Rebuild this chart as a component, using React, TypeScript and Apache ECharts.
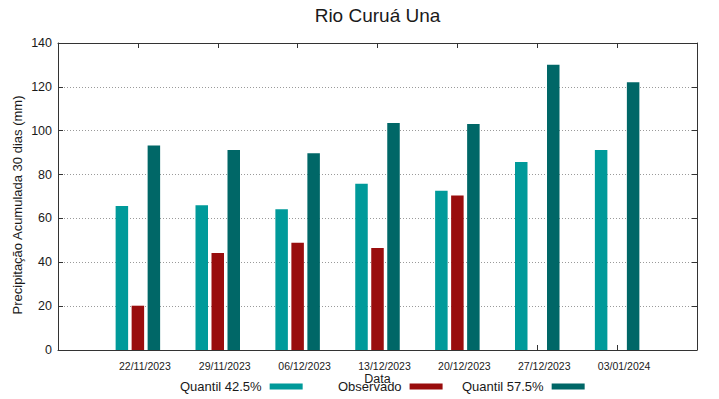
import React, { useEffect, useRef } from "react";
import * as echarts from "echarts";

const categories = ["", "22/11/2023", "29/11/2023", "06/12/2023", "13/12/2023", "20/12/2023", "27/12/2023", "03/01/2024", ""];
const quantil425 = [null, 65.7, 66.0, 64.2, 75.8, 72.6, 85.7, 91.2, null];
const observado = [null, 20.2, 44.2, 48.9, 46.5, 70.5, null, null, null];
const quantil575 = [null, 93.3, 91.2, 89.7, 103.5, 103.1, 130.1, 122.1, null];
const yTicks = [0, 20, 40, 60, 80, 100, 120, 140];

const FONT = "'Liberation Sans', Arial, sans-serif";
const TXT = "#1a1a1a";
const AX = "#333333";

export default function App() {
  const ref = useRef<HTMLDivElement>(null);
  useEffect(() => {
    if (!ref.current) return;
    const chart = echarts.init(ref.current, null, { renderer: "svg" });
    const legendBase = {
      orient: "horizontal",
      align: "right",
      itemWidth: 33,
      itemHeight: 6,
      padding: 0,
      top: 380,
      icon: "rect",
      textStyle: { fontFamily: FONT, fontSize: 13, color: TXT, padding: [0, 3, 0, 0] },
    };
    chart.setOption({
      animation: false,
      textStyle: { fontFamily: FONT },
      grid: { left: 58, right: 22, top: 43, bottom: 49, containLabel: false },
      legend: [
        { ...legendBase, left: 180, data: ["Quantil 42.5%"] },
        { ...legendBase, left: 338, data: ["Observado"] },
        { ...legendBase, left: 462, data: ["Quantil 57.5%"] },
      ],
      xAxis: [
        {
          type: "category",
          data: categories,
          boundaryGap: false,
          position: "bottom",
          axisLine: { show: true, onZero: false, lineStyle: { color: AX, width: 1 } },
          axisTick: { show: true, inside: true, length: 5, interval: 0, lineStyle: { color: AX } },
          axisLabel: { interval: 0, fontSize: 10.5, color: TXT, margin: 10, padding: [0, 0, 0, 14], fontFamily: FONT },
          splitLine: { show: false },
        },
        {
          type: "category",
          data: categories,
          boundaryGap: false,
          position: "top",
          axisLine: { show: true, onZero: false, lineStyle: { color: AX, width: 1 } },
          axisTick: { show: true, inside: true, length: 5, interval: 0, lineStyle: { color: AX } },
          axisLabel: { show: false },
          splitLine: { show: false },
        },
      ],
      yAxis: [
        {
          type: "value",
          min: yTicks[0],
          max: yTicks[yTicks.length - 1],
          interval: 20,
          position: "left",
          axisLine: { show: true, onZero: false, lineStyle: { color: AX, width: 1 } },
          axisTick: { show: true, inside: true, length: 5, lineStyle: { color: AX } },
          axisLabel: { fontSize: 12.5, color: TXT, margin: 6, fontFamily: FONT },
          splitLine: { show: true, showMinLine: false, showMaxLine: false, lineStyle: { color: "#9a9a9a", type: [1, 2], width: 1 } },
        },
        {
          type: "value",
          min: yTicks[0],
          max: yTicks[yTicks.length - 1],
          interval: 20,
          position: "right",
          axisLine: { show: true, onZero: false, lineStyle: { color: AX, width: 1 } },
          axisTick: { show: true, inside: true, length: 5, lineStyle: { color: AX } },
          axisLabel: { show: false },
          splitLine: { show: false },
        },
      ],
      series: [
        { name: "Quantil 42.5%", type: "bar", data: quantil425, barWidth: 12.5, barGap: "28%", itemStyle: { color: "#009a9a" } },
        { name: "Observado", type: "bar", data: observado, barWidth: 12.5, barGap: "28%", itemStyle: { color: "#990d0d" } },
        { name: "Quantil 57.5%", type: "bar", data: quantil575, barWidth: 12.5, barGap: "28%", itemStyle: { color: "#006767" } },
      ],
      graphic: [
        {
          type: "text",
          x: 377.5,
          y: 15,
          style: { text: "Rio Curuá Una", fontFamily: FONT, fontSize: 19, fill: TXT, align: "center", verticalAlign: "middle" },
        },
        {
          type: "text",
          x: 377.5,
          y: 378.5,
          style: { text: "Data", fontFamily: FONT, fontSize: 12.5, fill: TXT, align: "center", verticalAlign: "middle" },
        },
        {
          type: "text",
          x: 17,
          y: 205,
          rotation: Math.PI / 2,
          style: { text: "Precipitação Acumulada 30 dias (mm)", fontFamily: FONT, fontSize: 13, fill: TXT, align: "center", verticalAlign: "middle" },
        },
      ],
    });
    return () => chart.dispose();
  }, []);
  return <div ref={ref} style={{ position: "absolute", left: 0, top: 0, width: 719, height: 399 }} />;
}
